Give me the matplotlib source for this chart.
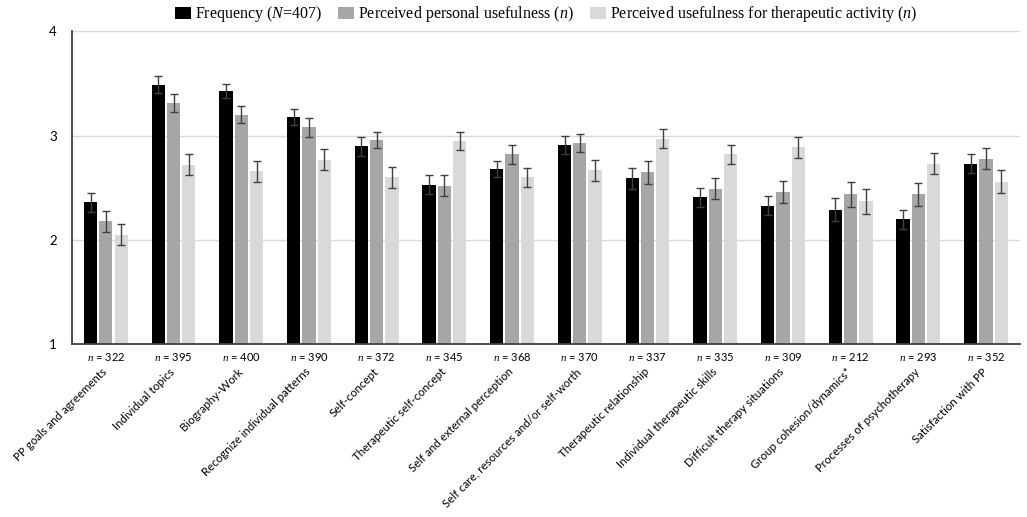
import matplotlib
matplotlib.use("Agg")
import matplotlib.pyplot as plt
import numpy as np

## donnees
categories = ["PP goals and agreements", "Individual topics", "Biography-Work",
              "Recognize individual patterns", "Self-concept", "Therapeutic self-concept",
              "Self and external perception", "Self care, resources and/or self-worth",
              "Therapeutic relationship", "Individual therapeutic skills",
              "Difficult therapy situations", "Group cohesion/dynamics*",
              "Processes of psychotherapy", "Satisfaction with PP"]
n_values = [322, 395, 400, 390, 372, 345, 368, 370, 337, 335, 309, 212, 293, 352]

frequency = [2.36, 3.49, 3.43, 3.18, 2.90, 2.53, 2.68, 2.91, 2.59, 2.41, 2.33, 2.29, 2.20, 2.73]
frequency_err = [0.09, 0.08, 0.07, 0.08, 0.09, 0.09, 0.08, 0.09, 0.10, 0.09, 0.09, 0.11, 0.09, 0.09]
personal = [2.18, 3.31, 3.20, 3.08, 2.96, 2.52, 2.82, 2.93, 2.65, 2.49, 2.46, 2.44, 2.44, 2.78]
personal_err = [0.10, 0.085, 0.08, 0.09, 0.08, 0.10, 0.09, 0.09, 0.11, 0.10, 0.11, 0.12, 0.11, 0.10]
therapeutic = [2.05, 2.72, 2.66, 2.77, 2.60, 2.95, 2.60, 2.67, 2.97, 2.82, 2.89, 2.37, 2.73, 2.56]
therapeutic_err = [0.10, 0.10, 0.10, 0.10, 0.10, 0.09, 0.09, 0.10, 0.09, 0.09, 0.10, 0.12, 0.10, 0.11]

labels = ["Frequency ($N$=407)", "Perceived personal usefulness ($n$)",
          "Perceived usefulness for therapeutic activity ($n$)"]

## style
plt.rcParams['mathtext.fontset'] = 'custom'
plt.rcParams['mathtext.rm'] = 'Liberation Serif'
plt.rcParams['mathtext.it'] = 'Liberation Serif:italic'
plt.rcParams['font.family'] = ['Lato', 'DejaVu Sans']

fig = plt.figure(figsize=(10.27, 5.17), dpi=100)
ax = fig.add_axes([0.0701, 0.334, 0.923, 0.6053])

x = np.arange(len(categories))
w = 0.196
step = 0.226
series = [(frequency, frequency_err, "#000000"),
          (personal, personal_err, "#a6a6a6"),
          (therapeutic, therapeutic_err, "#d9d9d9")]
for k, (vals, errs, col) in enumerate(series):
    ax.bar(x + (k - 1) * step, np.array(vals) - 1, w, bottom=1, color=col,
           label=labels[k], zorder=2)
    ax.errorbar(x + (k - 1) * step, vals, yerr=errs, fmt="none", ecolor="#404040",
                elinewidth=1, capsize=3, capthick=1, zorder=3)

ax.set_xlim(-0.5, len(categories) - 0.5)
ax.set_ylim(1, 4)
ax.set_yticks([1, 2, 3, 4])
ax.tick_params(axis="y", length=0, pad=11, labelsize=9.5)
ax.grid(axis="y", color="#d9d9d9", linewidth=1, zorder=0)
for s in ["top", "right"]:
    ax.spines[s].set_visible(False)
for s in ["left", "bottom"]:
    ax.spines[s].set_color("#404040")
    ax.spines[s].set_linewidth(1.3)

# n = ... et etiquettes inclinees
ax.set_xticks(x)
ax.set_xticklabels([])
ax.tick_params(axis="x", length=0)
for i, n in enumerate(n_values):
    ax.text(i, -0.022, "$n$ = %d" % n, transform=ax.get_xaxis_transform(),
            ha="center", va="top", fontsize=8)
    ax.text(i - 0.06, -0.07, categories[i], transform=ax.get_xaxis_transform(),
            ha="right", va="top", rotation=45, rotation_mode="anchor", fontsize=8.3)

ax.legend(loc="lower center", bbox_to_anchor=(0.5, 1.0), ncol=3, frameon=False,
          prop={"family": "Liberation Serif", "size": 11.5}, handlelength=1.0,
          handleheight=0.8, handletextpad=0.25, columnspacing=1.0, borderaxespad=0.05)

plt.savefig("out.png", dpi=100)
